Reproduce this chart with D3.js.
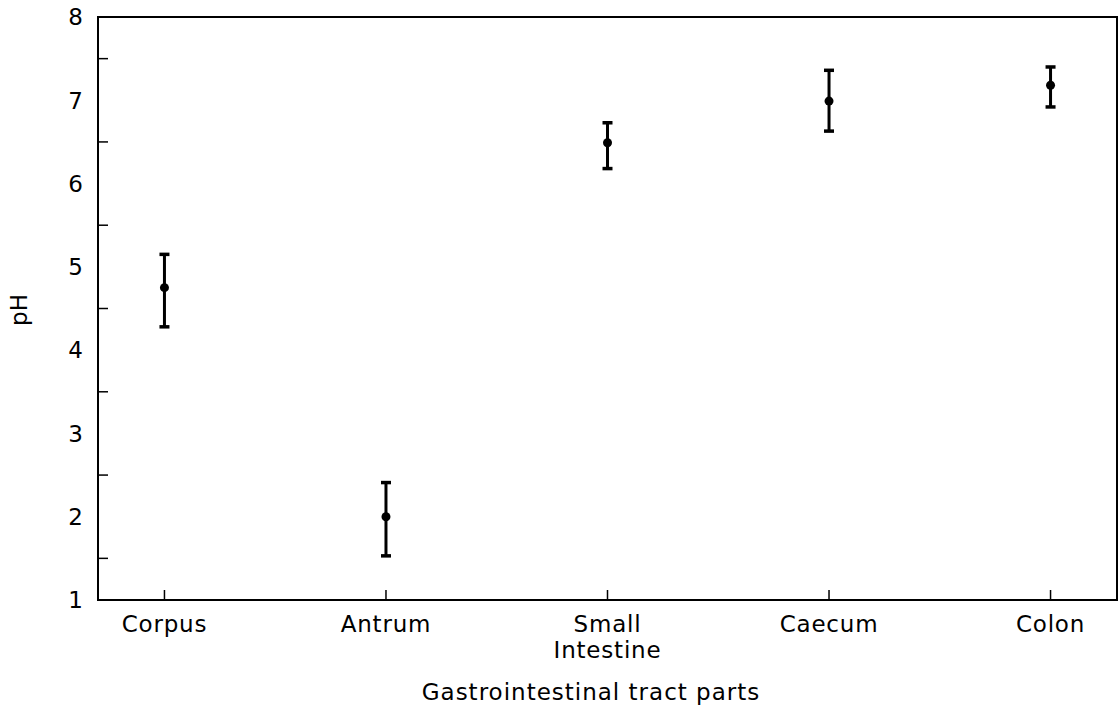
<!DOCTYPE html>
<html>
<head>
<meta charset="utf-8">
<script src="https://cdn.jsdelivr.net/npm/d3@7"></script>
<style>
  body { margin: 0; background: #fff; }
  text { font-family: "DejaVu Sans", "Liberation Sans", Arial, sans-serif; fill: #000; }
</style>
</head>
<body>
<svg id="chart" width="1120" height="710"></svg>
<script>
// gastrointestinal pH values
const categories = ['Corpus', 'Antrum', 'Small\nIntestine', 'Caecum', 'Colon'];
const means = [4.75, 2.0, 6.49, 6.99, 7.18];
const upper = [5.15, 2.41, 6.73, 7.36, 7.40];
const lower = [4.28, 1.53, 6.18, 6.63, 6.92];
const yLabels = [1, 2, 3, 4, 5, 6, 7, 8];
const yMinorTicks = [1.5, 2.5, 3.5, 4.5, 5.5, 6.5, 7.5];

const margin = { top: 17, right: 3, bottom: 110, left: 98 };
const width = 1120, height = 710;

const svg = d3.select('#chart');

const x = d3.scalePoint()
  .domain(categories)
  .range([margin.left, width - margin.right])
  .padding(0.3);

const y = d3.scaleLinear()
  .domain([1, 8])
  .range([height - margin.bottom, margin.top]);

const data = categories.map((c, i) => ({ cat: c, mean: means[i], hi: upper[i], lo: lower[i] }));

// frame
svg.append('rect')
  .attr('x', margin.left).attr('y', margin.top)
  .attr('width', width - margin.left - margin.right)
  .attr('height', height - margin.top - margin.bottom)
  .attr('fill', 'none').attr('stroke', '#000').attr('stroke-width', 2);

// y minor ticks (inside), labels at integers only
svg.append('g').selectAll('line')
  .data(yMinorTicks)
  .join('line')
  .attr('x1', margin.left).attr('x2', margin.left + 10)
  .attr('y1', d => y(d)).attr('y2', d => y(d))
  .attr('stroke', '#000').attr('stroke-width', 1.5);

svg.append('g').selectAll('text')
  .data(yLabels)
  .join('text')
  .attr('x', 83).attr('y', d => y(d))
  .attr('dy', '0.36em')
  .attr('text-anchor', 'end')
  .attr('font-size', 23)
  .text(d => d);

// x ticks (inside)
svg.append('g').selectAll('line')
  .data(categories)
  .join('line')
  .attr('x1', d => x(d)).attr('x2', d => x(d))
  .attr('y1', y(1)).attr('y2', y(1) - 10)
  .attr('stroke', '#000').attr('stroke-width', 1.5);

const xl = svg.append('g').selectAll('text')
  .data(categories)
  .join('text')
  .attr('x', d => x(d)).attr('y', 632)
  .attr('text-anchor', 'middle')
  .attr('font-size', 23)
  .attr('letter-spacing', 0.8);
xl.each(function(d) {
  const t = d3.select(this);
  d.split('\n').forEach((line, i) => {
    t.append('tspan').attr('x', x(d)).attr('dy', i === 0 ? 0 : 26).text(line);
  });
});

// axis titles
svg.append('text')
  .attr('x', 591).attr('y', 700)
  .attr('text-anchor', 'middle').attr('font-size', 23)
  .attr('letter-spacing', 1)
  .text('Gastrointestinal tract parts');

svg.append('text')
  .attr('transform', `translate(27,310) rotate(-90)`)
  .attr('text-anchor', 'middle').attr('font-size', 23)
  .text('pH');

// error bars
const bars = svg.append('g').selectAll('g')
  .data(data)
  .join('g');

bars.append('line')
  .attr('x1', d => x(d.cat)).attr('x2', d => x(d.cat))
  .attr('y1', d => y(d.hi)).attr('y2', d => y(d.lo))
  .attr('stroke', '#000').attr('stroke-width', 3);

bars.selectAll('line.cap')
  .data(d => [d.hi, d.lo].map(v => ({ cat: d.cat, v })))
  .join('line')
  .attr('class', 'cap')
  .attr('x1', d => x(d.cat) - 5).attr('x2', d => x(d.cat) + 5)
  .attr('y1', d => y(d.v)).attr('y2', d => y(d.v))
  .attr('stroke', '#000').attr('stroke-width', 3.5);

bars.append('circle')
  .attr('cx', d => x(d.cat)).attr('cy', d => y(d.mean))
  .attr('r', 4.5).attr('fill', '#000');
</script>
</body>
</html>
